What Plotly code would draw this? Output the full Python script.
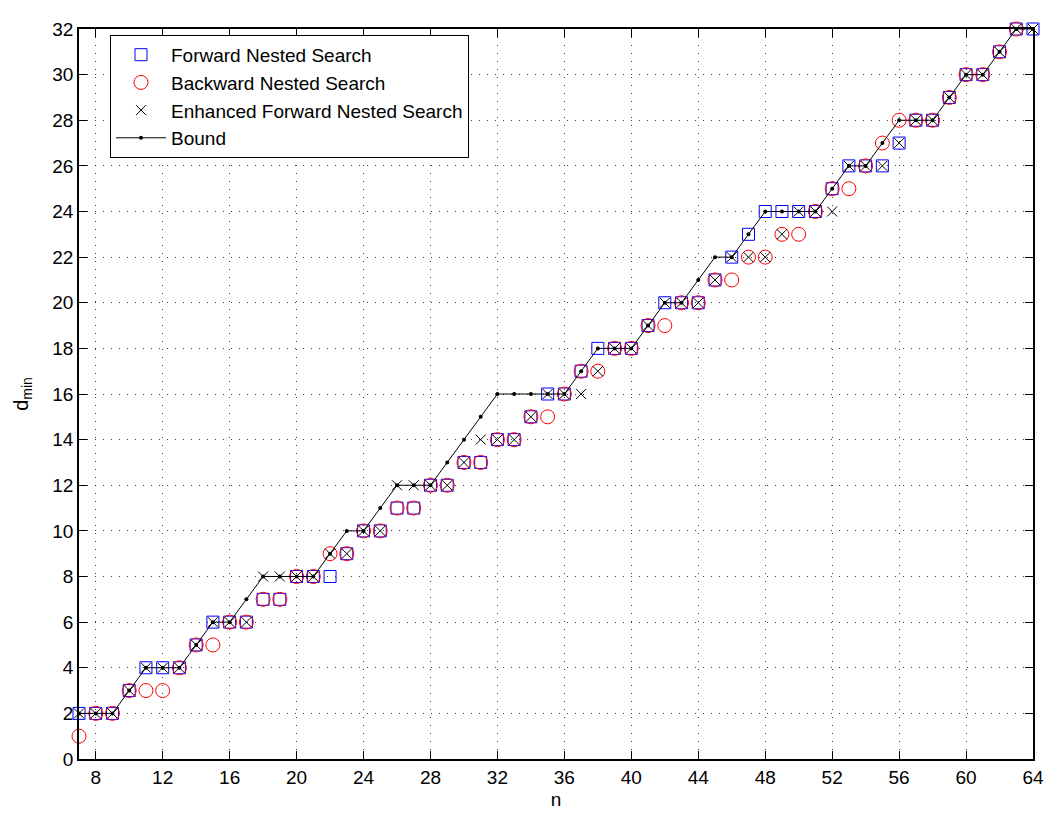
import plotly.graph_objects as go

n = list(range(7, 65))

forward = [2, 2, 2, 3, 4, 4, 4, 5, 6, 6, 6, 7, 7, 8, 8, 8, 9, 10, 10, 11, 11, 12, 12, 13, 13,
           14, 14, 15, 16, 16, 17, 18, 18, 18, 19, 20, 20, 20, 21, 22, 23, 24, 24, 24, 24, 25,
           26, 26, 26, 27, 28, 28, 29, 30, 30, 31, 32, 32]
backward = [1, 2, 2, 3, 3, 3, 4, 5, 5, 6, 6, 7, 7, 8, 8, 9, 9, 10, 10, 11, 11, 12, 12, 13, 13,
            14, 14, 15, 15, 16, 17, 17, 18, 18, 19, 19, 20, 20, 21, 21, 22, 22, 23, 23, 24, 25,
            25, 26, 27, 28, 28, 28, 29, 30, 30, 31, 32, None]
enhanced = [2, 2, 2, 3, 4, 4, 4, 5, 6, 6, 6, 8, 8, 8, 8, 9, 9, 10, 10, 12, 12, 12, 12, 13, 14,
            14, 14, 15, 16, 16, 16, 17, 18, 18, 19, 20, 20, 20, 21, 22, 22, 22, 23, 24, 24, 24,
            26, 26, 26, 27, 28, 28, 29, 30, 30, 31, 32, 32]
bound = [2, 2, 2, 3, 4, 4, 4, 5, 6, 6, 7, 8, 8, 8, 8, 9, 10, 10, 11, 12, 12, 12, 13, 14, 15,
         16, 16, 16, 16, 16, 17, 18, 18, 18, 19, 20, 20, 21, 22, 22, 23, 24, 24, 24, 24, 25,
         26, 26, 27, 28, 28, 28, 29, 30, 30, 31, 32, 32]

x_ticks = list(range(8, 65, 4))
y_ticks = list(range(0, 33, 2))

FONT = "Liberation Sans, Arial, Helvetica, sans-serif"

fig = go.Figure()
fig.add_trace(go.Scatter(
    x=n, y=forward, mode="markers", name="Forward Nested Search", cliponaxis=False,
    marker=dict(symbol="square-open", size=12, color="blue", line=dict(width=1, color="blue"))))
fig.add_trace(go.Scatter(
    x=n, y=backward, mode="markers", name="Backward Nested Search", cliponaxis=False,
    marker=dict(symbol="circle-open", size=14, color="red", line=dict(width=1, color="red"))))
fig.add_trace(go.Scatter(
    x=n, y=enhanced, mode="markers", name="Enhanced Forward Nested Search", cliponaxis=False,
    marker=dict(symbol="x-thin-open", size=10, color="black", line=dict(width=1, color="black"))))
fig.add_trace(go.Scatter(
    x=n, y=bound, mode="lines+markers", name="Bound", cliponaxis=False,
    line=dict(color="black", width=1),
    marker=dict(symbol="circle", size=4, color="black")))

axis_common = dict(
    showline=True, linecolor="black", linewidth=1.5, mirror="ticks",
    ticks="inside", ticklen=8, tickcolor="black", tickwidth=1,
    showgrid=True, gridcolor="rgba(0,0,0,0.75)", gridwidth=1, griddash="1px,7px",
    zeroline=False, tickfont=dict(family=FONT, size=19, color="black"),
    automargin=False,
)

fig.update_xaxes(range=[7, 64], tickvals=x_ticks,
                 title=dict(text="n", font=dict(family=FONT, size=19), standoff=6),
                 **axis_common)
fig.update_yaxes(range=[0, 32], tickvals=y_ticks,
                 title=dict(text="d<sub>min</sub>", font=dict(family=FONT, size=20), standoff=18),
                 **axis_common)

fig.update_layout(
    width=1052, height=814,
    margin=dict(l=79, r=19, t=29, b=55),
    paper_bgcolor="white", plot_bgcolor="white",
    font=dict(family=FONT, size=19, color="black"),
    showlegend=True,
    legend=dict(x=0.0325, y=0.992, xanchor="left", yanchor="top",
                bordercolor="black", borderwidth=1, bgcolor="white",
                font=dict(family=FONT, size=19), tracegroupgap=0, itemwidth=50),
    hovermode=False,
)

fig.write_html("out.html")
